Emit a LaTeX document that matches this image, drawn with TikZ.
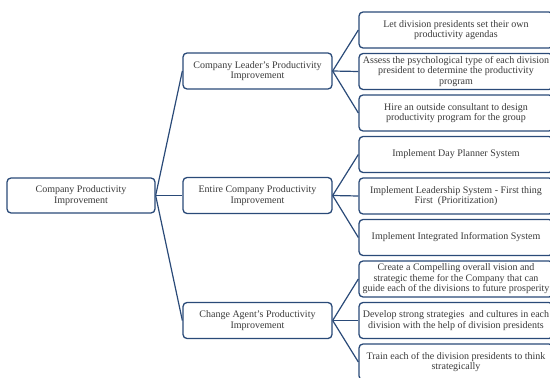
\documentclass[tikz,border=0pt]{standalone}
\usepackage{fontspec}
\setmainfont{Liberation Serif}
\begin{document}
\begin{tikzpicture}[x=1pt,y=-1pt,
  box/.style={draw=boxblue,line width=1.3pt,rounded corners=4pt,fill=white,
    text=textgray,align=center,inner sep=0pt,font=\fontsize{10}{10.5}\selectfont},
  rootbox/.style={box,minimum width=148pt,minimum height=35pt},
  midbox/.style={box,minimum width=149pt,minimum height=36pt},
  leafbox/.style={box,minimum width=194pt,minimum height=36pt},
  link/.style={draw=boxblue,line width=1.2pt}]
\definecolor{boxblue}{HTML}{2A4A78}
\definecolor{textgray}{HTML}{3A3A3A}
\useasboundingbox (0,0) rectangle (550,378);
\clip (0,0) rectangle (550,378);
\node[rootbox] (root) at (81,195.5) {Company Productivity\\Improvement};
\node[midbox] (lead) at (257.5,71) {Company Leader’s Productivity\\Improvement};
\node[midbox] (entire) at (257.5,195.5) {Entire Company Productivity\\Improvement};
\node[midbox] (change) at (257.5,320.5) {Change Agent’s Productivity\\Improvement};
\node[leafbox] (l1) at (456,30) {Let division presidents set their own\\productivity agendas};
\node[leafbox] (l2) at (456,71.5) {Assess the psychological type of each division\\president to determine the productivity\\program};
\node[leafbox] (l3) at (456,113) {Hire an outside consultant to design\\productivity program for the group};
\node[leafbox] (l4) at (456,154.5) {Implement Day Planner System};
\node[leafbox] (l5) at (456,196) {Implement Leadership System - First thing\\First\ \ (Prioritization)};
\node[leafbox] (l6) at (456,237.5) {Implement Integrated Information System};
\node[leafbox] (l7) at (456,279) {Create a Compelling overall vision and\\strategic theme for the Company that can\\guide each of the divisions to future prosperity};
\node[leafbox] (l8) at (456,320.5) {Develop strong strategies\ \ and cultures in each\\division with the help of division presidents};
\node[leafbox] (l9) at (456,362) {Train each of the division presidents to think\\strategically};
\foreach \m in {lead,entire,change} \draw[link] (root.east) -- (\m.west);
\foreach \l in {l1,l2,l3} \draw[link] (lead.east) -- (\l.west);
\foreach \l in {l4,l5,l6} \draw[link] (entire.east) -- (\l.west);
\foreach \l in {l7,l8,l9} \draw[link] (change.east) -- (\l.west);
\end{tikzpicture}
\end{document}
